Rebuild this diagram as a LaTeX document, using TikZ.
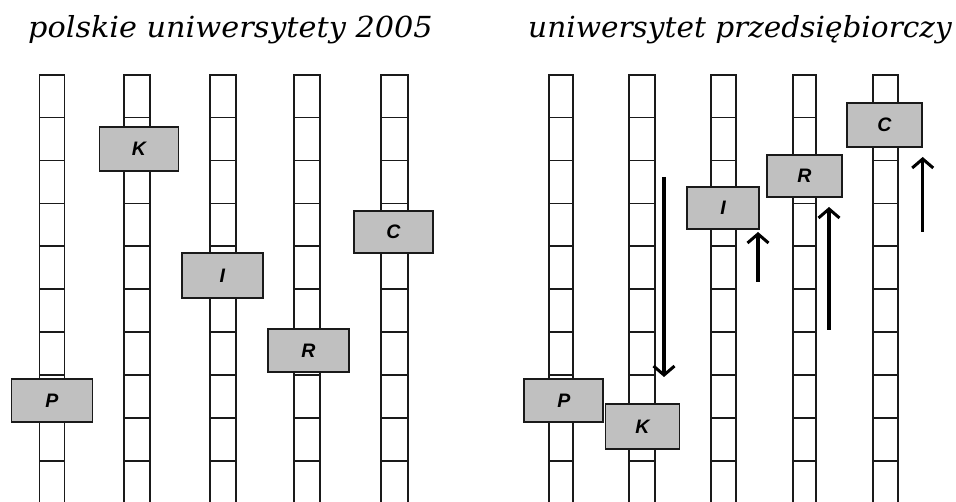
\documentclass[tikz,border=0pt]{standalone}
\usepackage{fontspec}
\setmainfont{DejaVu Serif}
\newfontfamily\boxfont{Liberation Sans}
\usetikzlibrary{arrows.meta}
\definecolor{tilegray}{HTML}{C0C0C0}
\definecolor{linegray}{HTML}{1A1A1A}
\begin{document}
\begin{tikzpicture}[x=1pt,y=-1pt,
  colbox/.style={draw=linegray, line width=1.7pt},
  tile/.style={draw=linegray, fill=tilegray, line width=1.8pt, minimum width=80pt,
    minimum height=43pt, inner sep=0pt,
    font=\boxfont\bfseries\itshape\fontsize{19.5}{19.5}\selectfont},
  ttl/.style={font=\itshape\fontsize{29}{29}\selectfont, anchor=base west, inner sep=0pt},
  move/.style={line width=3.2pt, -{Straight Barb[length=9pt,width=21pt,line width=3pt]}}
]
\useasboundingbox (0,0) rectangle (956,502);
\clip (0,0) rectangle (956,502);

\node[ttl] (t1) at (28,38) {\scalebox{1.045}[1]{polskie uniwersytety 2005}};
\node[ttl] (t2) at (528,38) {\scalebox{1.02}[1]{uniwersytet przedsiębiorczy}};

% columns
\foreach \cx/\w in {52/25,137/26,223/26.5,307/26.5,394.5/27.5,
                    561/24.5,642/26,723.4/24.5,804.3/23,885.5/24.5}{
  \draw[colbox] (\cx-\w/2,74.7) rectangle (\cx+\w/2,530);
  \foreach \k in {1,...,10}{
    \draw[colbox] (\cx-\w/2,74.7+\k*42.9) -- (\cx+\w/2,74.7+\k*42.9);
  }
}

% left panel tiles
\node[tile, minimum width=79pt, minimum height=44pt] (lK) at (139,149) {K};
\node[tile, minimum width=81pt, minimum height=43pt] (lP) at (52,400.3) {P};
\node[tile, minimum width=81pt, minimum height=45pt] (lI) at (222.3,275.3) {I};
\node[tile, minimum width=81pt, minimum height=43pt] (lR) at (308.3,350.3) {R};
\node[tile, minimum width=79pt, minimum height=42pt] (lC) at (393.5,232.2) {C};

% right panel tiles
\node[tile, minimum width=79pt, minimum height=43pt] (rP) at (563.8,400.3) {P};
\node[tile, minimum width=74pt, minimum height=45.5pt] (rK) at (642.5,426.5) {K};
\node[tile, minimum width=72pt, minimum height=42pt] (rI) at (723.2,208.2) {I};
\node[tile, minimum width=75pt, minimum height=42pt] (rR) at (804.3,176.2) {R};
\node[tile, minimum width=75pt, minimum height=44pt] (rC) at (884.5,125.2) {C};

% movement arrows
\coordinate (kS) at (664,177);
\coordinate (kE) at (664,377);
\coordinate (iS) at (758,282);
\coordinate (iE) at (758,232);
\coordinate (rS) at (829,330);
\coordinate (rE) at (829,207);
\coordinate (cS) at (922.7,232);
\coordinate (cE) at (922.7,157);
\draw[move] (kS) -- (kE);
\draw[move] (iS) -- (iE);
\draw[move] (rS) -- (rE);
\draw[move] (cS) -- (cE);
\end{tikzpicture}
\end{document}
